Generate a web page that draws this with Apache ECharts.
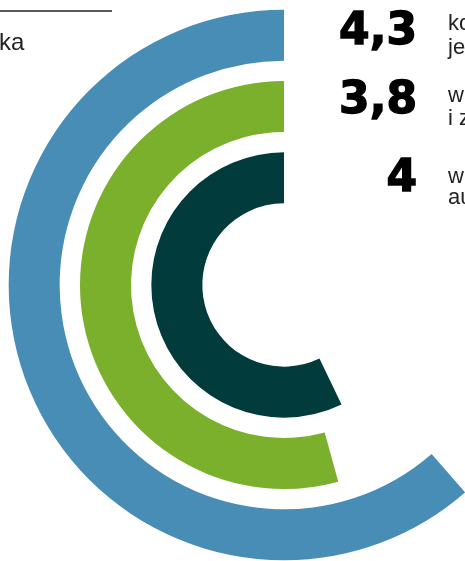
<!DOCTYPE html>
<html>
<head>
<meta charset="UTF-8">
<title>chart</title>
<script src="https://cdn.jsdelivr.net/npm/echarts@6/dist/echarts.min.js"></script>
<style>
  html, body { margin: 0; padding: 0; background: #fff; }
  #main { width: 465px; height: 561px; }
</style>
</head>
<body>
<div id="main"></div>
<script>
// rings from inside to outside
var categories = ['c', 'b', 'a'];
var values = [4, 3.8, 4.3];
var ringColors = ['#023b3b', '#7bb02c', '#488db6'];
// numbers on the right, top to bottom (outer ring first)
var numberOrder = [2, 1, 0];
var sideLabels = [['ko', 'je'], ['w', 'i z'], ['w', 'au']];
var titleTail = 'ka';

var myChart = echarts.init(document.getElementById('main'));

var graphics = [
  { type: 'line', shape: { x1: 0, y1: 11, x2: 112, y2: 11 }, style: { stroke: '#222', lineWidth: 1.5 } },
  { type: 'text', x: -1, y: 43, style: { text: titleTail, font: '24px "Liberation Sans", Arial, sans-serif', fill: '#222', textVerticalAlign: 'middle' } }
];
var numY = [33, 102, 180];
var lineY = [[24, 48], [96, 119], [177, 198]];
for (var i = 0; i < numberOrder.length; i++) {
  var v = values[numberOrder[i]];
  graphics.push({
    type: 'text', x: 417, y: numY[i],
    style: {
      text: String(v).replace('.', ','), font: 'bold 44px "DejaVu Sans", sans-serif',
      fill: '#000', stroke: '#000', lineWidth: 1.4, textAlign: 'right', textVerticalAlign: 'middle'
    }
  });
  for (var j = 0; j < sideLabels[i].length; j++) {
    graphics.push({
      type: 'text', x: 448, y: lineY[i][j],
      style: { text: sideLabels[i][j], font: '22px "Liberation Sans", Arial, sans-serif', fill: '#222', textVerticalAlign: 'middle' }
    });
  }
}

var option = {
  backgroundColor: '#fff',
  animation: false,
  polar: { center: [284, 285], radius: [71.5, 285.5] },
  angleAxis: {
    type: 'value', min: 0, max: 7, startAngle: 90, clockwise: false,
    axisLine: { show: false }, axisTick: { show: false }, axisLabel: { show: false }, splitLine: { show: false }
  },
  radiusAxis: {
    type: 'category', data: categories,
    axisLine: { show: false }, axisTick: { show: false }, axisLabel: { show: false }, splitLine: { show: false }
  },
  series: [{
    type: 'bar',
    coordinateSystem: 'polar',
    barWidth: 51,
    data: values.map(function (v, i) {
      return { value: v, itemStyle: { color: ringColors[i] } };
    })
  }],
  graphic: graphics
};
myChart.setOption(option);
</script>
</body>
</html>
